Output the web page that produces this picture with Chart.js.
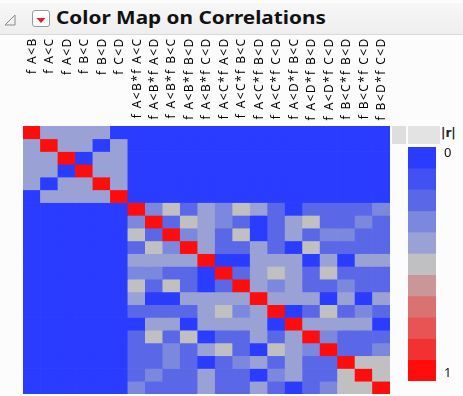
<!DOCTYPE html>
<html>
<head>
<meta charset="utf-8">
<script src="https://cdn.jsdelivr.net/npm/chart.js@4.4.1/dist/chart.umd.min.js"></script>
<style>
  html, body { margin: 0; padding: 0; background: #ffffff; }
  #wrap { position: relative; width: 463px; height: 396px; overflow: hidden; background: #fcfcfc; font-family: "Noto Sans", sans-serif; }
  #hdr { position: absolute; left: 0; top: 3px; width: 463px; height: 31px; background: linear-gradient(#f7f7f7, #eeeeee); border-bottom: 1px solid #d9d9d9; }
  #tri { position: absolute; left: 4px; top: 14px; }
  #btn { position: absolute; left: 32px; top: 10px; width: 16px; height: 15px; background: #ffffff; border: 1px solid #9a9a9a; border-radius: 3px; }
  #title { position: absolute; left: 56px; top: 6px; font-weight: bold; font-size: 17px; color: #111111; white-space: nowrap; transform-origin: left top; transform: scaleX(1.22); }
  #main { position: absolute; left: 0; top: 0; }
  #box1 { position: absolute; left: 392px; top: 126px; width: 14px; height: 18px; background: #dedede; }
  #box2 { position: absolute; left: 408px; top: 126px; width: 32px; height: 18px; background: #e3e3e3; }
  #rlab { position: absolute; left: 441px; top: 126px; font-weight: bold; font-size: 12px; color: #222222; font-family: "DejaVu Sans", sans-serif; }
  #scaleBox { position: absolute; left: 400px; top: 140px; width: 40px; height: 250px; }
  .tick { position: absolute; left: 444px; font-size: 13px; color: #111111; font-family: "Noto Sans", sans-serif; line-height: 13px; }
</style>
</head>
<body>
<div id="wrap">
  <div id="hdr"></div>
  <svg id="tri" width="12" height="12" viewBox="0 0 12 12"><polygon points="11,1 11,11 1,11" fill="none" stroke="#8a8a8a" stroke-width="1"/></svg>
  <div id="btn"><svg width="16" height="15" viewBox="0 0 16 15"><polygon points="3.5,5 12.5,5 8,10" fill="#e0202a"/></svg></div>
  <div id="title">Color Map on Correlations</div>
  <div id="box1"></div>
  <div id="box2"></div>
  <div id="rlab">|r|</div>
  <canvas id="main" width="463" height="396"></canvas>
  <div id="scaleBox"><canvas id="scale" width="40" height="250"></canvas></div>
  <div id="tick0" class="tick" style="top:146px"></div>
  <div id="tick1" class="tick" style="top:366px"></div>
</div>
<script>
// Model terms (rows and columns of the correlation matrix)
const mainTerms = ['f A<B', 'f A<C', 'f A<D', 'f B<C', 'f B<D', 'f C<D'];
const interactionTerms = [
  'f A<B*f A<C', 'f A<B*f A<D', 'f A<B*f B<C', 'f A<B*f B<D', 'f A<B*f C<D',
  'f A<C*f A<D', 'f A<C*f B<C', 'f A<C*f B<D', 'f A<C*f C<D',
  'f A<D*f B<C', 'f A<D*f B<D', 'f A<D*f C<D',
  'f B<C*f B<D', 'f B<C*f C<D', 'f B<D*f C<D'
];

// |r| among the main effects
const mainR = [
  [1.0, 0.4, 0.4, 0.4, 0.4, 0.0],
  [0.4, 1.0, 0.4, 0.4, 0.0, 0.4],
  [0.4, 0.4, 1.0, 0.0, 0.4, 0.4],
  [0.4, 0.4, 0.0, 1.0, 0.4, 0.4],
  [0.4, 0.0, 0.4, 0.4, 1.0, 0.4],
  [0.0, 0.4, 0.4, 0.4, 0.4, 1.0]
];

// |r| among the two-factor interactions
const interactionR = [
  [1.0, 0.3, 0.5, 0.2, 0.4, 0.3, 0.5, 0.4, 0.2, 0.0, 0.2, 0.2, 0.2, 0.2, 0.3],
  [0.3, 1.0, 0.2, 0.5, 0.4, 0.3, 0.2, 0.0, 0.2, 0.4, 0.5, 0.2, 0.2, 0.3, 0.2],
  [0.5, 0.2, 1.0, 0.3, 0.4, 0.2, 0.5, 0.0, 0.2, 0.4, 0.2, 0.3, 0.3, 0.2, 0.2],
  [0.2, 0.5, 0.3, 1.0, 0.4, 0.2, 0.2, 0.4, 0.2, 0.0, 0.5, 0.2, 0.2, 0.2, 0.2],
  [0.4, 0.4, 0.4, 0.4, 1.0, 0.0, 0.0, 0.4, 0.4, 0.4, 0.0, 0.4, 0.0, 0.4, 0.4],
  [0.3, 0.3, 0.2, 0.2, 0.0, 1.0, 0.2, 0.4, 0.5, 0.4, 0.2, 0.5, 0.2, 0.2, 0.2],
  [0.5, 0.2, 0.5, 0.2, 0.0, 0.2, 1.0, 0.4, 0.3, 0.4, 0.2, 0.2, 0.3, 0.2, 0.2],
  [0.4, 0.0, 0.0, 0.4, 0.4, 0.4, 0.4, 1.0, 0.4, 0.4, 0.4, 0.0, 0.4, 0.0, 0.4],
  [0.2, 0.2, 0.2, 0.2, 0.4, 0.5, 0.3, 0.4, 1.0, 0.0, 0.2, 0.5, 0.2, 0.3, 0.2],
  [0.0, 0.4, 0.4, 0.0, 0.4, 0.4, 0.4, 0.4, 0.0, 1.0, 0.4, 0.4, 0.4, 0.4, 0.0],
  [0.2, 0.5, 0.2, 0.5, 0.0, 0.2, 0.2, 0.4, 0.2, 0.4, 1.0, 0.3, 0.2, 0.2, 0.2],
  [0.2, 0.2, 0.3, 0.2, 0.4, 0.5, 0.2, 0.0, 0.5, 0.4, 0.3, 1.0, 0.2, 0.2, 0.3],
  [0.2, 0.2, 0.3, 0.2, 0.0, 0.2, 0.3, 0.4, 0.2, 0.4, 0.2, 0.2, 1.0, 0.5, 0.5],
  [0.2, 0.3, 0.2, 0.2, 0.4, 0.2, 0.2, 0.0, 0.3, 0.4, 0.2, 0.2, 0.5, 1.0, 0.5],
  [0.3, 0.2, 0.2, 0.2, 0.4, 0.2, 0.2, 0.4, 0.2, 0.0, 0.2, 0.3, 0.5, 0.5, 1.0]
];

// |r| between a main effect and an interaction
const crossR = 0.0;

// Tick labels of the |r| colour scale
const scaleTickLabels = ['0', '1'];

// Colour bins from |r| = 0 (blue) through grey to |r| = 1 (red)
const binColors = [
  'rgb(42,60,255)', 'rgb(66,82,242)', 'rgb(90,104,232)', 'rgb(124,136,222)',
  'rgb(154,161,212)', 'rgb(192,192,194)', 'rgb(202,150,152)', 'rgb(218,114,114)',
  'rgb(232,84,84)', 'rgb(242,50,50)', 'rgb(255,12,12)'
];
const colorFor = v => binColors[Math.round(v * 10)];

const terms = mainTerms.concat(interactionTerms);
const nMain = mainTerms.length;
const absR = terms.map((_, r) => terms.map((_, c) => {
  if (r < nMain && c < nMain) return mainR[r][c];
  if (r >= nMain && c >= nMain) return interactionR[r - nMain][c - nMain];
  return crossR;
}));

// Column headings, rotated and aligned along their top ends
const columnLabels = {
  id: 'columnLabels',
  afterDraw(chart) {
    const { ctx } = chart;
    const x = chart.scales.x;
    const spacing = 1.4;
    ctx.save();
    ctx.font = '12px "Noto Sans"';
    ctx.fillStyle = '#000000';
    ctx.textAlign = 'right';
    ctx.textBaseline = 'middle';
    if ('letterSpacing' in ctx) ctx.letterSpacing = spacing + 'px';
    terms.forEach((t, i) => {
      ctx.save();
      ctx.translate(x.getPixelForValue(i) + 0.5, 36 + spacing);
      ctx.rotate(-Math.PI / 2);
      ctx.fillText(t, 0, 0);
      ctx.restore();
    });
    ctx.restore();
  }
};

// One dataset per matrix row; each bar spans one row band of the y scale
const rowDatasets = absR.map((row, r) => ({
  data: row.map(() => [r, r + 1]),
  backgroundColor: row.map(colorFor),
  borderWidth: 0,
  grouped: false,
  barPercentage: 1,
  categoryPercentage: 1
}));

new Chart(document.getElementById('main'), {
  type: 'bar',
  data: { labels: terms, datasets: rowDatasets },
  options: {
    responsive: false,
    animation: false,
    layout: { padding: { left: 23, top: 126, right: 73, bottom: 2 } },
    plugins: { legend: { display: false }, tooltip: { enabled: false } },
    scales: {
      x: { display: false },
      y: { display: false, min: 0, max: terms.length, reverse: true }
    }
  },
  plugins: [columnLabels]
});

// |r| colour scale
const binDatasets = binColors.map((col, k) => ({
  data: [[k, k + 1]],
  backgroundColor: col,
  borderWidth: 0,
  grouped: false,
  barPercentage: 1,
  categoryPercentage: 1
}));

new Chart(document.getElementById('scale'), {
  type: 'bar',
  data: { labels: [''], datasets: binDatasets },
  options: {
    responsive: false,
    animation: false,
    layout: { padding: { left: 8, top: 7, right: 4, bottom: 9 } },
    plugins: { legend: { display: false }, tooltip: { enabled: false } },
    scales: {
      x: { display: false },
      y: { display: false, min: 0, max: binColors.length, reverse: true }
    }
  }
});

document.getElementById('tick0').textContent = scaleTickLabels[0];
document.getElementById('tick1').textContent = scaleTickLabels[1];
</script>
</body>
</html>
